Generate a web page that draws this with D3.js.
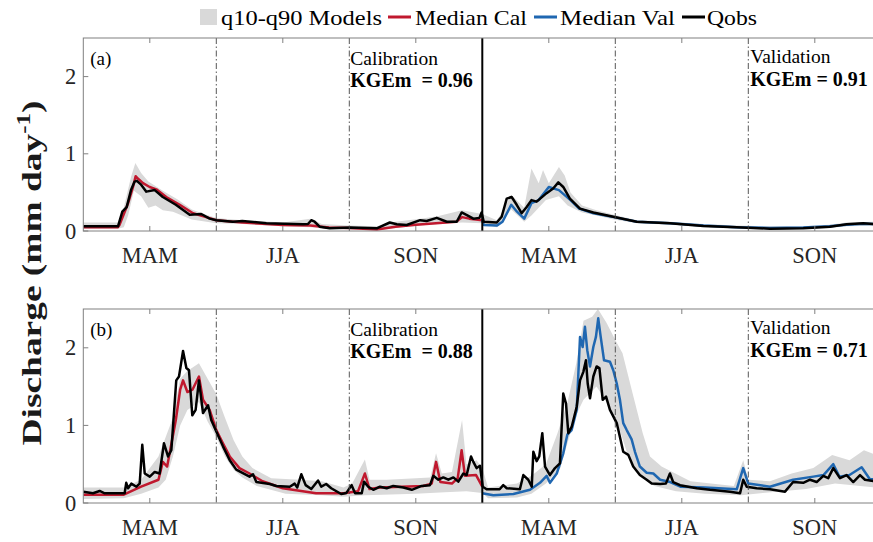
<!DOCTYPE html>
<html><head><meta charset="utf-8">
<script src="https://cdn.jsdelivr.net/npm/d3@7/dist/d3.min.js"></script>
<style>body{margin:0;background:#fff}svg{display:block}</style>
</head><body><svg id="c" width="873" height="542"></svg>
<script>
// ---------- data (day index from 1 March of calibration year, value in mm/day) ----------
const seasons = ["MAM","JJA","SON","MAM","JJA","SON"];
const seasonCenters = [46,138,230,322,414,506];
const seasonBounds = [92,184,368,460];
const calValSplit = 276;
const yTicks = [0,1,2];
const legendLabels = ["q10-q90 Models","Median Cal","Median Val","Qobs"];
const panelLabels = ["(a)","(b)"];
const kgeCal = ["KGEm  = 0.96","KGEm  = 0.88"];
const kgeVal = ["KGEm = 0.91","KGEm = 0.71"];

const obsA = [[0,0.06],[24,0.06],[27,0.25],[30,0.31],[33,0.53],[35.5,0.64],[37,0.65],[40,0.60],[43.6,0.51],[49.4,0.53],[55,0.44],[64,0.34],[73.6,0.21],[81.6,0.22],[87.4,0.16],[92,0.14],[103.5,0.12],[110,0.13],[126.6,0.10],[152,0.087],[155.4,0.09],[157.7,0.14],[160,0.12],[163.5,0.056],[170.4,0.035],[184.5,0.045],[203,0.035],[212,0.11],[216.8,0.087],[223.7,0.078],[233,0.14],[237.5,0.13],[244.5,0.17],[251.4,0.12],[258.3,0.12],[261.7,0.24],[265,0.21],[269.8,0.16],[274,0.17],[275.5,0.24],[277,0.12],[286,0.11],[289.4,0.185],[292.9,0.42],[296.3,0.44],[299.8,0.34],[303.2,0.23],[306.7,0.31],[310,0.40],[313.6,0.38],[320.5,0.49],[325,0.55],[328.6,0.63],[332,0.57],[336.6,0.42],[343.6,0.29],[352.8,0.24],[366.6,0.185],[382.8,0.12],[405.8,0.10],[428.9,0.065],[452,0.048],[475,0.03],[498,0.035],[516.5,0.056],[528,0.087],[539.5,0.10],[548,0.09]];
const medCalA = [[0,0.05],[24,0.05],[25,0.078],[31,0.36],[34.4,0.57],[36.2,0.71],[37.7,0.68],[41.3,0.62],[45.9,0.57],[50.5,0.54],[57.4,0.44],[66.7,0.34],[75.9,0.23],[85,0.18],[92,0.14],[110,0.11],[138,0.078],[157,0.07],[170,0.045],[184,0.04],[203,0.02],[216,0.056],[230,0.08],[244,0.10],[258,0.12],[262,0.18],[267,0.16],[276,0.14]];
const medValA = [[276,0.14],[277,0.078],[286,0.07],[290,0.12],[296,0.34],[300,0.25],[305,0.16],[310,0.36],[315,0.40],[322,0.57],[329,0.53],[337,0.40],[343,0.29],[353,0.23],[367,0.18],[383,0.12],[406,0.10],[429,0.07],[452,0.05],[475,0.04],[498,0.045],[516,0.06],[528,0.08],[540,0.095],[548,0.09]];
const q90A = [[0,0.11],[24,0.11],[28,0.3],[33,0.7],[36,0.88],[40,0.75],[45,0.64],[55,0.52],[65,0.41],[75,0.28],[85,0.21],[92,0.17],[110,0.14],[138,0.11],[157,0.16],[165,0.09],[184,0.07],[203,0.06],[216,0.12],[233,0.16],[245,0.19],[262,0.27],[276,0.22],[286,0.14],[290,0.25],[296,0.47],[305,0.30],[310,0.81],[315,0.62],[318,0.79],[322,0.62],[329,0.83],[333,0.72],[337,0.50],[345,0.33],[355,0.27],[367,0.21],[383,0.14],[406,0.12],[429,0.09],[452,0.07],[475,0.06],[498,0.06],[516,0.08],[528,0.11],[548,0.12]];
const q10A = [[0,0.03],[24,0.03],[28,0.05],[31,0.2],[35,0.52],[40,0.45],[45,0.30],[50,0.33],[55,0.27],[62,0.25],[75,0.15],[92,0.1],[110,0.09],[138,0.06],[157,0.05],[170,0.025],[184,0.02],[203,0.01],[216,0.04],[233,0.07],[245,0.09],[262,0.11],[276,0.10],[286,0.05],[296,0.28],[305,0.12],[310,0.2],[320,0.40],[329,0.45],[335,0.33],[345,0.24],[355,0.2],[367,0.15],[383,0.1],[406,0.08],[429,0.05],[452,0.03],[475,0.02],[498,0.025],[516,0.04],[528,0.06],[548,0.07]];

const obsB = [[0,0.146],[6.7,0.125],[11.3,0.155],[14.8,0.125],[28.6,0.125],[29.7,0.26],[31,0.19],[33.2,0.25],[36.7,0.21],[39,0.25],[40.8,0.75],[42.5,0.38],[46,0.34],[49.4,0.40],[52.8,0.38],[55.8,0.77],[58.6,0.60],[60.9,0.68],[64.3,1.58],[66.2,1.63],[69,1.96],[71.3,1.74],[73.1,1.71],[75.4,1.13],[77.7,1.20],[80,1.58],[82.8,1.16],[86.3,1.26],[88.5,1.07],[92,0.92],[96.6,0.73],[101.3,0.55],[105.8,0.43],[115,0.34],[117.4,0.37],[119.7,0.27],[129,0.245],[133.5,0.22],[142.8,0.21],[146.2,0.25],[148,0.2],[150.8,0.37],[153.8,0.23],[157.7,0.18],[162.4,0.29],[164.6,0.21],[168,0.245],[171.5,0.19],[178.4,0.116],[182,0.13],[185.6,0.23],[188,0.125],[192.6,0.125],[194.2,0.275],[197.1,0.21],[200.6,0.17],[205.2,0.21],[209.9,0.19],[214.4,0.22],[221.4,0.20],[227.2,0.17],[234,0.22],[239.8,0.23],[242.1,0.35],[245.6,0.30],[249,0.33],[252.5,0.30],[256,0.33],[259.4,0.275],[262.9,0.38],[265.2,0.36],[268.2,0.60],[269.8,0.53],[272.1,0.45],[274.4,0.48],[276.3,0.21],[279,0.177],[288,0.177],[290.5,0.23],[292.9,0.19],[302,0.177],[304.4,0.36],[307.8,0.30],[310.2,0.21],[311.3,0.66],[313.6,0.54],[315.4,0.60],[317.5,0.90],[319.4,0.47],[322.8,0.36],[326.3,0.45],[329.7,0.51],[332,1.41],[333.9,1.28],[335.5,0.90],[337.8,0.98],[341.3,1.24],[343.6,1.58],[345.9,1.69],[347.7,1.84],[348.9,1.54],[350.5,1.35],[352.8,1.63],[355.1,1.76],[357,1.74],[359.3,1.33],[361.6,1.37],[364.3,1.20],[369,1.03],[371.2,0.85],[373.5,0.66],[377,0.62],[380.4,0.47],[385,0.36],[389.7,0.30],[393.2,0.25],[399,0.245],[403,0.25],[405.8,0.38],[408,0.27],[412.8,0.23],[424.3,0.19],[433.5,0.17],[447.3,0.146],[454.3,0.125],[456.5,0.30],[458.9,0.21],[465.8,0.19],[475,0.177],[485.4,0.146],[491,0.27],[498,0.26],[502.7,0.30],[507.3,0.27],[511.9,0.35],[515.3,0.32],[518.8,0.45],[523.4,0.32],[528,0.36],[532.6,0.27],[537.3,0.36],[540.7,0.30],[548,0.28]];
const medCalB = [[0,0.107],[28,0.107],[40,0.21],[52,0.30],[55,0.53],[58,0.47],[64,1.07],[67,1.46],[69,1.58],[72,1.43],[75.5,1.46],[80,1.63],[82.8,1.33],[87.4,1.20],[92,0.94],[96.6,0.77],[101.3,0.60],[108,0.45],[115,0.38],[124,0.28],[138,0.19],[161,0.125],[180,0.125],[190,0.15],[194.8,0.38],[198,0.18],[205,0.20],[220,0.21],[235,0.22],[241,0.25],[244,0.53],[247,0.27],[255,0.25],[259,0.32],[261.7,0.68],[264,0.35],[271.7,0.36],[276,0.21]];
const medValB = [[276,0.125],[283.6,0.10],[297.5,0.116],[309,0.17],[315.9,0.26],[320.5,0.35],[322.8,0.26],[327.5,0.38],[332,0.64],[334.8,0.88],[337.8,0.94],[341.3,1.20],[343.6,2.14],[345.4,2.01],[347,2.27],[348.6,1.97],[350.5,1.76],[352.8,2.01],[354.6,2.14],[356.2,2.38],[357.9,2.14],[360.2,1.84],[364.3,1.82],[366.6,1.71],[369,1.54],[371.2,1.33],[373.5,1.03],[375.9,0.94],[379.3,0.82],[381.6,0.66],[385,0.47],[389.7,0.39],[394.3,0.38],[399,0.30],[406,0.27],[413,0.21],[430,0.20],[452,0.177],[456.5,0.45],[460,0.25],[475,0.21],[491,0.30],[505,0.34],[512,0.36],[518.8,0.50],[523,0.34],[530,0.36],[538.4,0.46],[544,0.31],[548,0.30]];
const q90B = [[0,0.2],[28,0.2],[40,0.3],[52,0.6],[57,0.85],[62,1.1],[67,1.6],[72,1.7],[80,1.80],[86,1.6],[92,1.4],[98,1.1],[104,0.81],[110,0.6],[117,0.45],[130,0.32],[150,0.3],[165,0.28],[180,0.2],[186,0.25],[194.8,0.56],[198,0.3],[210,0.3],[230,0.32],[240,0.33],[244,0.64],[248,0.38],[255,0.40],[262,1.07],[265,0.5],[272,0.55],[276,0.45],[280,0.2],[300,0.25],[310,0.35],[320,0.5],[328,0.9],[335,1.3],[341,1.8],[346,2.35],[352,2.4],[356,2.5],[362,2.32],[368,2.1],[373,1.93],[380,1.41],[387,0.90],[392,0.6],[400,0.47],[420,0.28],[450,0.22],[456.5,0.55],[460,0.3],[475,0.28],[490,0.38],[505,0.45],[518,0.62],[530,0.55],[540,0.68],[548,0.62]];
const q10B = [[0,0.05],[28,0.06],[40,0.12],[52,0.2],[57,0.3],[62,0.6],[67,1.0],[72,1.2],[80,1.3],[86,1.05],[92,0.85],[98,0.6],[104,0.43],[110,0.33],[120,0.22],[140,0.12],[165,0.1],[180,0.08],[195,0.1],[230,0.12],[250,0.14],[265,0.15],[276,0.13],[280,0.06],[300,0.07],[310,0.12],[320,0.25],[330,0.45],[340,1.1],[346,1.33],[355,1.5],[362,1.3],[370,1.0],[377,0.6],[385,0.35],[395,0.22],[410,0.15],[430,0.12],[455,0.1],[470,0.13],[500,0.18],[520,0.25],[548,0.2]];

const panels = [
  {obs:obsA, cal:medCalA, val:medValA, q10:q10A, q90:q90A, top:38, bottom:231},
  {obs:obsB, cal:medCalB, val:medValB, q10:q10B, q90:q90B, top:309, bottom:503}
];

// ---------- drawing ----------
const FONT = "'Liberation Serif', 'Times New Roman', Tinos, Times, serif";
const svg = d3.select("#c").attr("font-family", FONT).style("font-family", FONT);
const colors = {band:"#d9d9d9", cal:"#c0182e", val:"#1f67b1", obs:"#000"};
const left = 83.3, right = 881.3;
const x = d3.scaleLinear().domain([0,552]).range([left,right]);
const axisCol = "#808080", textCol = "#262626";

panels.forEach((p,i)=>{
  const y = d3.scaleLinear().domain([0,2.5]).range([p.bottom,p.top]);
  const g = svg.append("g");
  const cid = "clip"+i;
  svg.append("clipPath").attr("id",cid).append("rect")
    .attr("x",left).attr("y",p.top).attr("width",right-left).attr("height",p.bottom-p.top);
  const line = d3.line().x(d=>x(d[0])).y(d=>y(d[1]));
  const dg = g.append("g").attr("clip-path",`url(#${cid})`);
  dg.append("path").attr("d", line(p.q90.concat(p.q10.slice().reverse()))+"Z")
    .attr("fill",colors.band).attr("stroke","none");
  dg.append("path").attr("d",line(p.cal)).attr("fill","none").attr("stroke",colors.cal).attr("stroke-width",2.5).attr("stroke-linejoin","round");
  dg.append("path").attr("d",line(p.val)).attr("fill","none").attr("stroke",colors.val).attr("stroke-width",2.5).attr("stroke-linejoin","round");
  dg.append("path").attr("d",line(p.obs)).attr("fill","none").attr("stroke",colors.obs).attr("stroke-width",2.5).attr("stroke-linejoin","round");

  seasonBounds.forEach(b=>{
    g.append("line").attr("x1",x(b)).attr("x2",x(b)).attr("y1",p.top).attr("y2",p.bottom)
      .attr("stroke","#444").attr("stroke-width",0.9).attr("stroke-dasharray","6,2.5,1.5,2.5");
  });
  g.append("line").attr("x1",x(calValSplit)).attr("x2",x(calValSplit)).attr("y1",p.top).attr("y2",p.bottom)
    .attr("stroke","#000").attr("stroke-width",2);

  g.append("rect").attr("x",left).attr("y",p.top).attr("width",right-left).attr("height",p.bottom-p.top)
    .attr("fill","none").attr("stroke",axisCol).attr("stroke-width",1);

  seasonCenters.forEach((c,k)=>{
    g.append("line").attr("x1",x(c)).attr("x2",x(c)).attr("y1",p.bottom).attr("y2",p.bottom-5).attr("stroke",axisCol);
    g.append("line").attr("x1",x(c)).attr("x2",x(c)).attr("y1",p.top).attr("y2",p.top+5).attr("stroke",axisCol);
    g.append("text").attr("x",x(c)).attr("y",p.bottom+32).attr("text-anchor","middle")
      .attr("font-size",22.5).attr("fill",textCol).text(seasons[k]);
  });
  yTicks.forEach(t=>{
    g.append("line").attr("x1",left).attr("x2",left+5).attr("y1",y(t)).attr("y2",y(t)).attr("stroke",axisCol);
    g.append("text").attr("x",left-7).attr("y",y(t)).attr("dy","0.34em").attr("text-anchor","end")
      .attr("font-size",22.5).attr("fill",textCol).text(t);
  });

  g.append("text").attr("x",left+7).attr("y",p.top+27).attr("font-size",19).attr("fill","#000").text(panelLabels[i]);
  g.append("text").attr("x",x(184)+1).attr("y",p.top+27).attr("font-size",19.5).attr("fill","#000").text("Calibration");
  g.append("text").attr("x",x(184)+1).attr("y",p.top+49).attr("font-size",20).attr("font-weight","bold")
    .style("white-space","pre").attr("fill","#000").text(kgeCal[i]);
  g.append("text").attr("x",x(460)+2).attr("y",p.top+25).attr("font-size",19.5).attr("fill","#000").text("Validation");
  g.append("text").attr("x",x(460)+2).attr("y",p.top+48).attr("font-size",20).attr("font-weight","bold")
    .style("white-space","pre").attr("fill","#000").text(kgeVal[i]);
});

// y-axis title
const yt = svg.append("text").attr("transform","translate(41,273) rotate(-90)")
  .attr("text-anchor","middle").attr("font-size",27).attr("font-weight","bold").attr("fill","#1a1a1a")
  .attr("textLength",345).attr("lengthAdjust","spacingAndGlyphs");
yt.append("tspan").text("Discharge (mm day");
yt.append("tspan").attr("dy",-11).attr("font-size",18).text("-1");
yt.append("tspan").attr("dy",11).text(")");

// legend
const lg = svg.append("g");
lg.append("rect").attr("x",200).attr("y",9).attr("width",17).attr("height",16).attr("fill",colors.band);
const legItems = [
  {x0:null, tx:221, len:161, label:legendLabels[0]},
  {x0:388, tx:415, len:112, label:legendLabels[1], col:colors.cal},
  {x0:534, tx:560, len:115, label:legendLabels[2], col:colors.val},
  {x0:682, tx:707, len:50, label:legendLabels[3], col:colors.obs}
];
legItems.forEach(it=>{
  if(it.x0!==null) lg.append("line").attr("x1",it.x0).attr("x2",it.x0+23).attr("y1",17).attr("y2",17)
    .attr("stroke",it.col).attr("stroke-width",3);
  lg.append("text").attr("x",it.tx).attr("y",25).attr("font-size",21.5).attr("fill","#000")
    .attr("textLength",it.len).attr("lengthAdjust","spacingAndGlyphs").text(it.label);
});
</script></body></html>
